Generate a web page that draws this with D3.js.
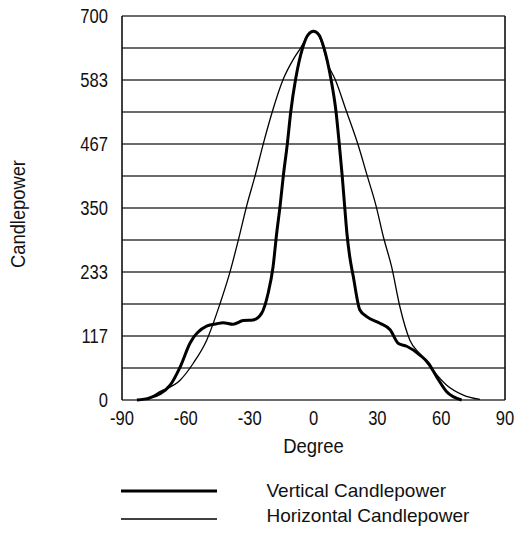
<!DOCTYPE html>
<html>
<head>
<meta charset="utf-8">
<script src="https://cdnjs.cloudflare.com/ajax/libs/d3/7.8.5/d3.min.js"></script>
<style>
  body { margin: 0; background: #fff; }
  text { font-family: "Liberation Sans", Arial, sans-serif; fill: #111; }
</style>
</head>
<body>
<svg id="chart" width="516" height="533"></svg>
<script>
// values
var vertDeg = [-83, -77, -67.4, -62.7, -58, -50, -45.5, -42.5, -37.8, -33, -28.4, -24.4, -21.3, -19, -17.3, -15.7, -14.2, -12.3, -10.7, -8.4, -5.1, -2.5, 0, 2.5, 4.9, 8.2, 10.6, 12.1, 13.5, 14.4, 15.7, 17, 18.7, 21.8, 25, 31.2, 36, 39.9, 43.8, 50, 54, 57.9, 62.6, 69.6];
var vertVal = [0, 4, 27, 60, 104, 135, 139, 141, 138, 145, 146, 158, 195, 243, 304, 354, 408, 467, 525, 585, 642, 666, 672, 666, 642, 585, 525, 467, 408, 365, 304, 262, 225, 164, 152, 140, 128, 103, 98, 82, 67, 42, 15, 0];

var horzDeg = [-78, -73.7, -62.7, -56.5, -50.2, -43.9, -39.2, -35.3, -31.4, -27.5, -23.6, -19.4, -14.2, -9.5, -6, -3, 0, 3, 7, 10.1, 15.6, 20.8, 25.3, 29.4, 32.8, 36.7, 40.6, 45.3, 50, 54.7, 62.6, 70.4, 78.2];
var horzVal = [0, 12, 36, 67, 109, 176, 234, 292, 354, 408, 467, 525, 585, 621, 642, 662, 672, 660, 610, 585, 525, 467, 408, 354, 298, 243, 170, 109, 84, 61, 27, 9, 1];

var xTicks = [-90, -60, -30, 0, 30, 60, 90];
var yTicks = [0, 117, 233, 350, 467, 583, 700];
var gridStep = 700 / 12;

var svg = d3.select("#chart");
var x = d3.scaleLinear().domain([-90, 90]).range([122, 505]);
var y = d3.scaleLinear().domain([0, 700]).range([400, 16]);

// text helper: condensed look by squeezing x
function label(px, py, str, size, sx, anchor, rot) {
    return svg.append("text")
        .attr("transform", "translate(" + px + "," + py + ")" + (rot ? " rotate(" + rot + ")" : "") + " scale(" + sx + ",1)")
        .attr("text-anchor", anchor)
        .attr("font-size", size)
        .text(str);
}

// horizontal grid
var gridVals = d3.range(0, 13).map(function (i) { return i * gridStep; });
svg.append("g").selectAll("line")
    .data(gridVals)
    .enter().append("line")
    .attr("x1", x(-90)).attr("x2", x(90))
    .attr("y1", function (d) { return y(d); })
    .attr("y2", function (d) { return y(d); })
    .attr("stroke", "#3a3a3a")
    .attr("stroke-width", 1.4);

// frame sides
svg.append("line").attr("x1", x(-90)).attr("x2", x(-90)).attr("y1", y(700)).attr("y2", y(0))
    .attr("stroke", "#111").attr("stroke-width", 1.6);
svg.append("line").attr("x1", x(90)).attr("x2", x(90)).attr("y1", y(700)).attr("y2", y(0))
    .attr("stroke", "#111").attr("stroke-width", 1.6);

yTicks.forEach(function (d) { label(108, y(d) + 7, d, 19.5, 0.85, "end"); });
xTicks.forEach(function (d) { label(x(d), 425, d, 19.5, 0.85, "middle"); });

label(x(0), 453, "Degree", 19.5, 0.95, "middle");
label(25, 214, "Candlepower", 19.5, 0.94, "middle", -90);

var line = d3.line()
    .x(function (d) { return x(d[0]); })
    .y(function (d) { return y(d[1]); })
    .curve(d3.curveMonotoneX);

svg.append("path")
    .datum(d3.zip(horzDeg, horzVal))
    .attr("d", line)
    .attr("fill", "none")
    .attr("stroke", "#000")
    .attr("stroke-width", 1.3);

svg.append("path")
    .datum(d3.zip(vertDeg, vertVal))
    .attr("d", line)
    .attr("fill", "none")
    .attr("stroke", "#000")
    .attr("stroke-width", 3);

// legend
var legend = [{name: "Vertical Candlepower", w: 3, y: 491}, {name: "Horizontal Candlepower", w: 1.3, y: 519}];
legend.forEach(function (d) {
    svg.append("line").attr("x1", 121).attr("x2", 217).attr("y1", d.y).attr("y2", d.y)
        .attr("stroke", "#000").attr("stroke-width", d.w);
});
label(266.5, 497, legend[0].name, 19, 1, "start");
label(266.5, 522, legend[1].name, 19, 1, "start");
</script>
</body>
</html>
